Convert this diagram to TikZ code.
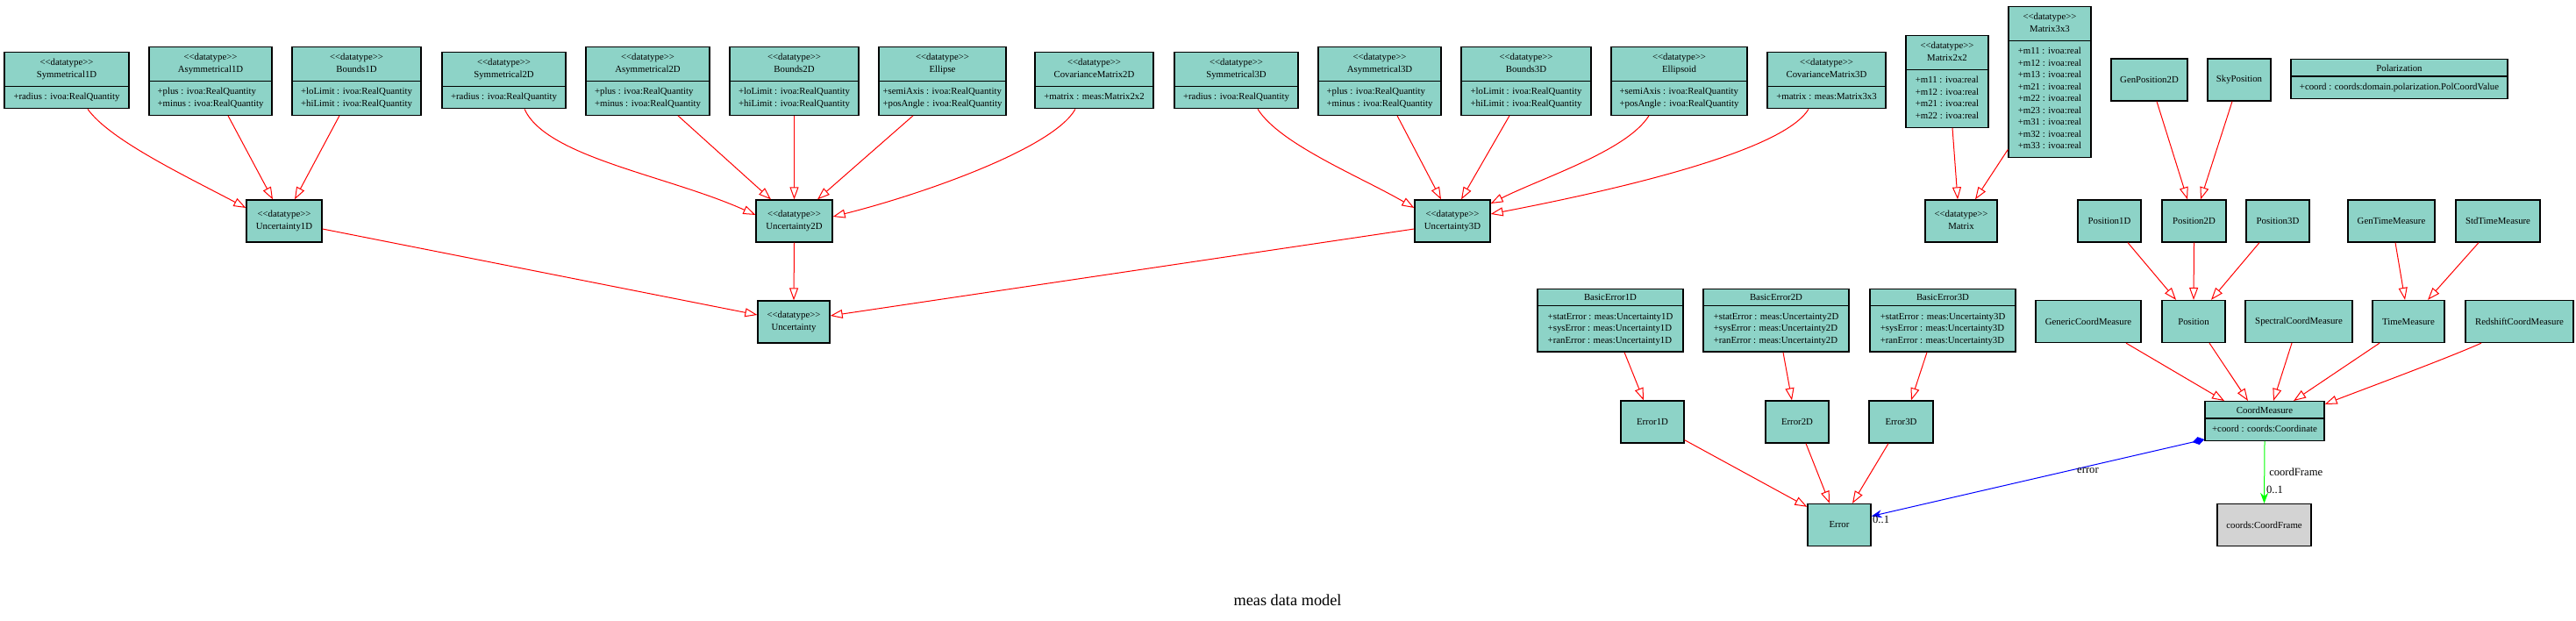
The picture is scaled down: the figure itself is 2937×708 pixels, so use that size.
\documentclass[tikz,border=0pt]{standalone}
\usepackage{fontspec}
\setmainfont{Liberation Serif}
\usetikzlibrary{arrows.meta,shapes.multipart}
\definecolor{clsfill}{HTML}{8DD3C7}
\definecolor{framefill}{HTML}{D3D3D3}
\definecolor{assocgreen}{RGB}{0,255,0}
\newcommand{\dtype}{<\kern0pt<datatype>\kern0pt>}
\newcommand{\rows}[1]{\begin{tabular}{@{}l@{}}#1\end{tabular}}
\newcommand{\crows}[1]{\begin{tabular}{@{}c@{}}#1\end{tabular}}
\tikzset{
  umlfont/.style={font=\fontsize{10.8}{13.5}\selectfont},
  cls/.style={umlfont,draw=black,line width=1.3pt,fill=clsfill,inner xsep=2pt,inner ysep=0pt,minimum height=48pt},
  dtcls/.style={cls,rectangle split,rectangle split parts=2,inner ysep=5.25pt,minimum height=0pt,anchor=north},
  gen/.style={red,line width=1pt,-{Triangle[open,length=14pt,width=10pt]}},
  assoc/.style={line width=1pt},
  lbl/.style={font=\fontsize{12.6}{15}\selectfont,text=black,inner sep=1pt}
}
\begin{document}
\begin{tikzpicture}[x=1pt,y=-1pt]
\useasboundingbox (0,0) rectangle (2937,708);
% top row: datatypes with attributes
\node[dtcls,minimum width=142pt] (sym1d) at (76,59) {\crows{\dtype\\Symmetrical1D}\nodepart{two}\rows{+radius : ivoa:RealQuantity}};
\node[dtcls,minimum width=140pt] (asym1d) at (240,53) {\crows{\dtype\\Asymmetrical1D}\nodepart{two}\rows{+plus : ivoa:RealQuantity\\+minus : ivoa:RealQuantity}};
\node[dtcls,minimum width=147pt] (bnd1d) at (406.5,53) {\crows{\dtype\\Bounds1D}\nodepart{two}\rows{+loLimit : ivoa:RealQuantity\\+hiLimit : ivoa:RealQuantity}};
\node[dtcls,minimum width=141pt] (sym2d) at (574.5,59) {\crows{\dtype\\Symmetrical2D}\nodepart{two}\rows{+radius : ivoa:RealQuantity}};
\node[dtcls,minimum width=141pt] (asym2d) at (738.5,53) {\crows{\dtype\\Asymmetrical2D}\nodepart{two}\rows{+plus : ivoa:RealQuantity\\+minus : ivoa:RealQuantity}};
\node[dtcls,minimum width=147pt] (bnd2d) at (905.5,53) {\crows{\dtype\\Bounds2D}\nodepart{two}\rows{+loLimit : ivoa:RealQuantity\\+hiLimit : ivoa:RealQuantity}};
\node[dtcls,minimum width=145pt] (ellipse) at (1074.5,53) {\crows{\dtype\\Ellipse}\nodepart{two}\rows{+semiAxis : ivoa:RealQuantity\\+posAngle : ivoa:RealQuantity}};
\node[dtcls,minimum width=135pt] (cov2d) at (1247.5,59) {\crows{\dtype\\CovarianceMatrix2D}\nodepart{two}\rows{+matrix : meas:Matrix2x2}};
\node[dtcls,minimum width=141pt] (sym3d) at (1409.5,59) {\crows{\dtype\\Symmetrical3D}\nodepart{two}\rows{+radius : ivoa:RealQuantity}};
\node[dtcls,minimum width=140pt] (asym3d) at (1573,53) {\crows{\dtype\\Asymmetrical3D}\nodepart{two}\rows{+plus : ivoa:RealQuantity\\+minus : ivoa:RealQuantity}};
\node[dtcls,minimum width=148pt] (bnd3d) at (1740,53) {\crows{\dtype\\Bounds3D}\nodepart{two}\rows{+loLimit : ivoa:RealQuantity\\+hiLimit : ivoa:RealQuantity}};
\node[dtcls,minimum width=155pt] (ellipsoid) at (1914.5,53) {\crows{\dtype\\Ellipsoid}\nodepart{two}\rows{+semiAxis : ivoa:RealQuantity\\+posAngle : ivoa:RealQuantity}};
\node[dtcls,minimum width=135pt] (cov3d) at (2082.5,59) {\crows{\dtype\\CovarianceMatrix3D}\nodepart{two}\rows{+matrix : meas:Matrix3x3}};
\node[dtcls,minimum width=94pt] (mat2) at (2220,40) {\crows{\dtype\\Matrix2x2}\nodepart{two}\rows{+m11 : ivoa:real\\+m12 : ivoa:real\\+m21 : ivoa:real\\+m22 : ivoa:real}};
\node[dtcls,minimum width=94pt] (mat3) at (2337,7) {\crows{\dtype\\Matrix3x3}\nodepart{two}\rows{+m11 : ivoa:real\\+m12 : ivoa:real\\+m13 : ivoa:real\\+m21 : ivoa:real\\+m22 : ivoa:real\\+m23 : ivoa:real\\+m31 : ivoa:real\\+m32 : ivoa:real\\+m33 : ivoa:real}};
\node[cls,minimum width=87pt] (genpos2d) at (2450.5,91) {GenPosition2D};
\node[cls,minimum width=72pt] (skypos) at (2553,91) {SkyPosition};
\node[dtcls,minimum width=247pt] (polar) at (2735.5,67) {Polarization\nodepart{two}\rows{+coord : coords:domain.polarization.PolCoordValue}};
% second row
\node[cls,minimum width=86pt] (unc1d) at (324,252) {\crows{\dtype\\Uncertainty1D}};
\node[cls,minimum width=87pt] (unc2d) at (905.5,252) {\crows{\dtype\\Uncertainty2D}};
\node[cls,minimum width=86pt] (unc3d) at (1656,252) {\crows{\dtype\\Uncertainty3D}};
\node[cls,minimum width=82pt] (mtx) at (2236,252) {\crows{\dtype\\Matrix}};
\node[cls,minimum width=72pt] (pos1d) at (2405,252) {Position1D};
\node[cls,minimum width=73pt] (pos2d) at (2501.5,252) {Position2D};
\node[cls,minimum width=72pt] (pos3d) at (2597,252) {Position3D};
\node[cls,minimum width=99pt] (gentime) at (2726.5,252) {GenTimeMeasure};
\node[cls,minimum width=96pt] (stdtime) at (2848,252) {StdTimeMeasure};
% third row
\node[cls,minimum width=82pt] (unc) at (905,367) {\crows{\dtype\\Uncertainty}};
\node[dtcls,minimum width=166pt] (basicerr1d) at (1836,329) {BasicError1D\nodepart{two}\rows{+statError : meas:Uncertainty1D\\+sysError : meas:Uncertainty1D\\+ranError : meas:Uncertainty1D}};
\node[dtcls,minimum width=166pt] (basicerr2d) at (2025,329) {BasicError2D\nodepart{two}\rows{+statError : meas:Uncertainty2D\\+sysError : meas:Uncertainty2D\\+ranError : meas:Uncertainty2D}};
\node[dtcls,minimum width=166pt] (basicerr3d) at (2215,329) {BasicError3D\nodepart{two}\rows{+statError : meas:Uncertainty3D\\+sysError : meas:Uncertainty3D\\+ranError : meas:Uncertainty3D}};
\node[cls,minimum width=120pt] (genericcm) at (2381,366.5) {GenericCoordMeasure};
\node[cls,minimum width=72pt] (position) at (2501,366.5) {Position};
\node[cls,minimum width=122pt] (spectralcm) at (2621,366.5) {SpectralCoordMeasure};
\node[cls,minimum width=82pt] (timemeas) at (2746,366.5) {TimeMeasure};
\node[cls,minimum width=123pt] (redshiftcm) at (2872.5,366.5) {RedshiftCoordMeasure};
% fourth and fifth rows
\node[cls,minimum width=72pt] (err1d) at (1884,481) {Error1D};
\node[cls,minimum width=72pt] (err2d) at (2049,481) {Error2D};
\node[cls,minimum width=73pt] (err3d) at (2167.5,481) {Error3D};
\node[dtcls,minimum width=136pt] (coordmeas) at (2582,457) {CoordMeasure\nodepart{two}\rows{+coord : coords:Coordinate}};
\node[cls,minimum width=72pt] (error) at (2097,598.5) {Error};
\node[cls,minimum width=107pt,fill=framefill] (coordframe) at (2581.5,598.5) {coords:CoordFrame};
\node[font=\fontsize{18.3}{22}\selectfont] (title) at (1468,684) {meas data model};
% generalisations
\draw[gen] ([xshift=24pt]sym1d.south) .. controls +(25,35) and +(-70,-37) .. ([yshift=15pt]unc1d.west);
\draw[gen] ([xshift=20pt]asym1d.south) -- ([xshift=-13pt]unc1d.north);
\draw[gen] ([xshift=-19.5pt]bnd1d.south) -- ([xshift=12pt]unc1d.north);
\draw[gen] ([xshift=23.5pt]sym2d.south) .. controls +(25,55) and +(-100,-45) .. ([yshift=7pt]unc2d.west);
\draw[gen] ([xshift=34.5pt]asym2d.south) -- ([xshift=-26.5pt]unc2d.north);
\draw[gen] (bnd2d.south) -- (unc2d.north);
\draw[gen] ([xshift=-33.5pt]ellipse.south) -- ([xshift=26.5pt]unc2d.north);
\draw[gen] ([xshift=-21.5pt]cov2d.south) .. controls +(-25,45) and +(100,-25) .. ([yshift=5pt]unc2d.east);
\draw[gen] ([xshift=24.5pt]sym3d.south) .. controls +(25,40) and +(-60,-35) .. ([yshift=15pt]unc3d.west);
\draw[gen] ([xshift=20pt]asym3d.south) -- ([xshift=-13pt]unc3d.north);
\draw[gen] ([xshift=-19pt]bnd3d.south) -- ([xshift=10pt]unc3d.north);
\draw[gen] ([xshift=-34.5pt]ellipsoid.south) .. controls +(-25,40) and +(60,-30) .. ([yshift=20pt]unc3d.east);
\draw[gen] ([xshift=-20.5pt]cov3d.south) .. controls +(-30,50) and +(130,-25) .. ([yshift=8pt]unc3d.east);
\draw[gen] ([yshift=-9pt]unc1d.east) -- ([yshift=8pt]unc.west);
\draw[gen] (unc2d.south) -- (unc.north);
\draw[gen] ([yshift=-9pt]unc3d.west) -- ([yshift=7pt]unc.east);
\draw[gen] ([xshift=6pt]mat2.south) -- ([xshift=-4pt]mtx.north);
\draw[gen] ([yshift=10pt]mat3.south west) -- ([xshift=16pt]mtx.north);
\draw[gen] ([xshift=8.5pt]genpos2d.south) -- ([xshift=-7.5pt]pos2d.north);
\draw[gen] ([xshift=-8pt]skypos.south) -- ([xshift=7.5pt]pos2d.north);
\draw[gen] ([xshift=21pt]pos1d.south) -- ([xshift=-20pt]position.north);
\draw[gen] (pos2d.south) -- (position.north);
\draw[gen] ([xshift=-21pt]pos3d.south) -- ([xshift=20pt]position.north);
\draw[gen] ([xshift=4.5pt]gentime.south) -- ([xshift=-4pt]timemeas.north);
\draw[gen] ([xshift=-22pt]stdtime.south) -- ([xshift=22pt]timemeas.north);
\draw[gen] ([xshift=43pt]genericcm.south) -- ([xshift=-46pt]coordmeas.north);
\draw[gen] ([xshift=18pt]position.south) -- ([xshift=-19pt]coordmeas.north);
\draw[gen] ([xshift=-8pt]spectralcm.south) -- ([xshift=10pt]coordmeas.north);
\draw[gen] ([xshift=-33pt]timemeas.south) -- ([xshift=33pt]coordmeas.north);
\draw[gen] ([xshift=-43.5pt]redshiftcm.south) .. controls +(-40,18) and +(30,-12) .. ([yshift=-4pt]coordmeas.north east);
\draw[gen] ([xshift=16pt]basicerr1d.south) -- ([xshift=-10pt]err1d.north);
\draw[gen] ([xshift=8pt]basicerr2d.south) -- ([xshift=-6pt]err2d.north);
\draw[gen] ([xshift=-18pt]basicerr3d.south) -- ([xshift=11.5pt]err3d.north);
\draw[gen] ([yshift=4pt]err1d.south east) -- ([yshift=-4pt]error.north west);
\draw[gen] ([xshift=10pt]err2d.south) -- ([xshift=-11pt]error.north);
\draw[gen] ([xshift=-14.5pt]err3d.south) -- ([xshift=15pt]error.north);
% associations
\draw[assoc,blue,{Diamond[length=14pt,width=9pt]}-{Stealth[length=12pt,width=9pt]}] ([yshift=2pt]coordmeas.south west) -- ([yshift=10pt]error.east)
  node[lbl,pos=0.35,below] {error} node[lbl,at end,anchor=west,yshift=-4pt] {0..1};
\draw[assoc,assocgreen,-{Stealth[length=12pt,width=9pt]}] (coordmeas.south) -- (coordframe.north)
  node[lbl,midway,right,inner sep=5pt] {coordFrame} node[lbl,pos=0.78,right,inner sep=2pt] {0..1};
\end{tikzpicture}
\end{document}
